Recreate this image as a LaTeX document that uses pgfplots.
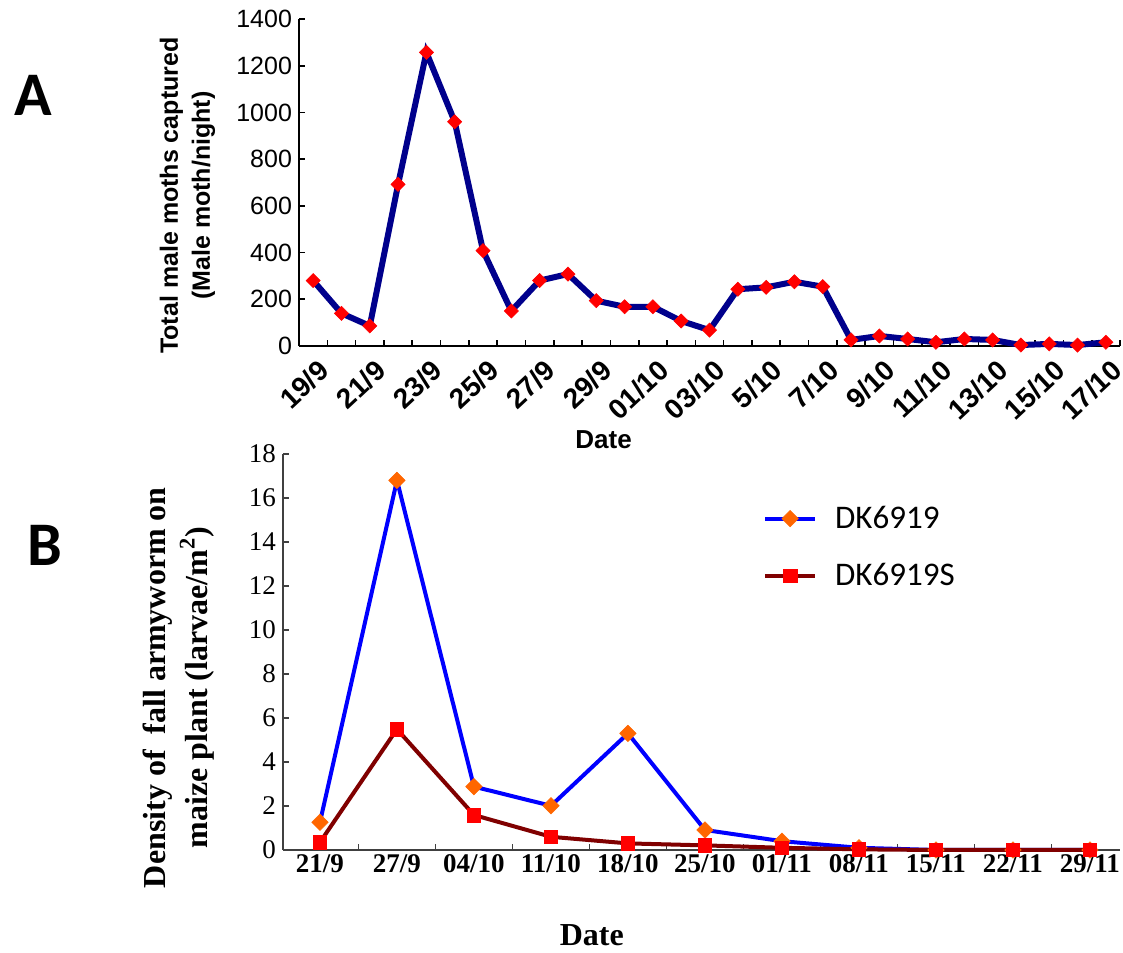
\documentclass[border=0pt]{standalone}
\usepackage{fontspec}
\setmainfont{Liberation Serif}
\newfontfamily\arialf{Liberation Sans}
\newfontfamily\calf{Carlito}
\usepackage{pgfplots}
\pgfplotsset{compat=1.18}
\definecolor{navyA}{RGB}{0,0,140}
\definecolor{orangeB}{RGB}{255,102,0}
\definecolor{darkredB}{RGB}{128,0,0}
\definecolor{axgray}{RGB}{64,64,64}
\begin{document}
\begin{tikzpicture}
\useasboundingbox (0pt,0pt) rectangle (561.5pt,476pt);
\node[font=\calf\bfseries\fontsize{31}{31}\selectfont] at (16.5pt,428.5pt) {A};
\node[font=\calf\bfseries\fontsize{31}{31}\selectfont] at (22.5pt,203.5pt) {B};
% Panel A
\begin{axis}[
  at={(149.5pt,303pt)}, anchor=south west,
  scale only axis, width=410.5pt, height=163.5pt,
  xmin=-0.5, xmax=28.5, ymin=0, ymax=1400,
  axis lines=left, axis line style={-, line width=1pt, black},
  tick align=inside, major tick length=3pt, minor tick length=3pt,
  tick style={black, line width=0.8pt},
  xtick={0,2,...,28},
  xticklabels={19/9,21/9,23/9,25/9,27/9,29/9,01/10,03/10,5/10,7/10,9/10,11/10,13/10,15/10,17/10},
  major x tick style={draw=none},
  minor xtick={-0.5,0.5,...,28.5},
  ytick={0,200,...,1400},
  /pgf/number format/assume math mode=true,
  /pgf/number format/1000 sep={},
  scaled y ticks=false,
  x tick label style={font=\arialf\bfseries\fontsize{14}{14}\selectfont, yshift=-4.5pt, xshift=2pt, rotate=43, anchor=north east, inner sep=1pt},
  y tick label style={font=\arialf\fontsize{12.5}{12.5}\selectfont},
  clip=false,
  ylabel={Total male moths captured\\(Male moth/night)},
  ylabel style={font=\arialf\bfseries\fontsize{12.5}{16}\selectfont, align=center, at={(axis description cs:-0.136,0.46)}, anchor=center},
  xlabel={Date},
  xlabel style={font=\arialf\bfseries\fontsize{13}{13}\selectfont, at={(axis description cs:0.371,-0.287)}, anchor=center},
]
\addplot[navyA, line width=3pt, mark=square*, mark size=2.5pt,
  mark options={rotate=45, fill=red, draw=red, line width=0.3pt, solid}]
coordinates {
(0,280) (1,140) (2,86) (3,692) (4,1257) (5,960) (6,408) (7,150) (8,280) (9,308)
(10,194) (11,168) (12,168) (13,107) (14,68) (15,243) (16,251) (17,275) (18,254)
(19,26) (20,43) (21,30) (22,16) (23,30) (24,26) (25,4) (26,9) (27,4) (28,16)
};
\end{axis}
% Panel B
\begin{axis}[
  at={(141.5pt,51pt)}, anchor=south west,
  scale only axis, width=418.5pt, height=198pt,
  xmin=-0.48, xmax=10.39, ymin=0, ymax=18,
  axis lines=left, axis line style={-, line width=0.75pt, axgray},
  tick align=inside, major tick length=3pt, minor tick length=3pt,
  tick style={axgray, line width=0.6pt},
  xtick={0,...,10},
  xticklabels={21/9,27/9,04/10,11/10,18/10,25/10,01/11,08/11,15/11,22/11,29/11},
  major x tick style={draw=none},
  minor xtick={0.5,1.5,...,9.5},
  ytick={0,2,...,18},
  /pgf/number format/assume math mode=true,
  x tick label style={font=\bfseries\fontsize{13.5}{13.5}\selectfont, inner sep=2pt},
  y tick label style={font=\fontsize{13.5}{13.5}\selectfont},
  clip=false,
  ylabel={Density of\ \ fall armyworm on\\maize plant (larvae/m\textsuperscript{2})},
  ylabel style={font=\bfseries\fontsize{16}{21}\selectfont, align=center, at={(axis description cs:-0.125,0.41)}, anchor=center},
  xlabel={Date},
  xlabel style={font=\bfseries\fontsize{16}{16}\selectfont, at={(axis description cs:0.369,-0.214)}, anchor=center},
  legend style={at={(axis description cs:0.566,0.89)}, anchor=north west, draw=none, fill=none,
    font=\calf\fontsize{16.5}{16.5}\selectfont, row sep=12pt},
  legend cell align=left,
  legend image code/.code={\draw[mark repeat=2,mark phase=2,#1] plot coordinates {(0pt,0pt) (12.5pt,0pt) (25pt,0pt)};},
]
\addplot[blue, line width=2pt, mark=square*, mark size=2.9pt,
  mark options={rotate=45, fill=orangeB, draw=orangeB, line width=0.3pt, solid}]
coordinates {
(0,1.26) (1,16.8) (2,2.88) (3,2.01) (4,5.3) (5,0.91) (6,0.4) (7,0.1) (8,0) (9,0) (10,0)
};
\addlegendentry{\hspace{7pt}DK6919}
\addplot[darkredB, line width=2pt, mark=square*, mark size=3.4pt,
  mark options={fill=red, draw=red, line width=0.3pt, solid}]
coordinates {
(0,0.35) (1,5.49) (2,1.59) (3,0.6) (4,0.3) (5,0.21) (6,0.1) (7,0.03) (8,0) (9,0) (10,0)
};
\addlegendentry{\hspace{7pt}DK6919S}
\end{axis}
\end{tikzpicture}
\end{document}
